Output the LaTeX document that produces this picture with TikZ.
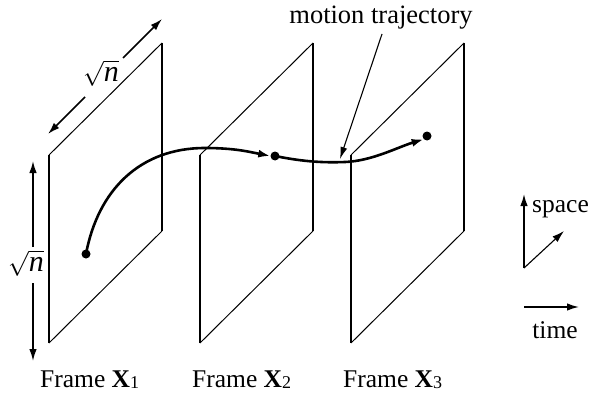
\documentclass[tikz,border=0pt]{standalone}
\usepackage{fontspec}
\setmainfont{Liberation Serif}
\usetikzlibrary{arrows.meta}
\begin{document}
\begin{tikzpicture}[x=1pt,y=-1pt,
  lbl/.style={font=\fontsize{25.5}{30}\selectfont, inner sep=0pt},
  dimlbl/.style={font=\fontsize{30}{34}\selectfont, inner sep=0pt},
  vedge/.style={line width=2.4pt},
  sedge/.style={line width=1pt},
  dimarrow/.style={line width=1.6pt, -{Latex[length=12pt,width=7.5pt]}},
  traj/.style={line width=2.6pt, -{Latex[length=12pt,width=8pt]}},
  pointer/.style={line width=1.1pt, -{Latex[length=12pt,width=7pt]}},
  dot/.style={circle, fill=black, inner sep=0pt, minimum size=9pt}]
\useasboundingbox (0,0) rectangle (593,393);
% frames
\foreach \i/\dx in {1/0,2/151,3/302}{
  \coordinate (bl\i) at (49+\dx,343);
  \coordinate (tl\i) at (49+\dx,155);
  \coordinate (tr\i) at (162+\dx,43);
  \coordinate (br\i) at (162+\dx,231);
  \draw[vedge] (bl\i) -- (tl\i);
  \draw[vedge] (tr\i) -- (br\i);
  \draw[sedge] (tl\i) -- (tr\i);
  \draw[sedge] (br\i) -- (bl\i);
}
% dimension labels
\node[dimlbl] (dimtop) at (101,73) {$\sqrt{\textit{n}}$};
\coordinate (dt1) at (85,97);
\coordinate (dt1e) at (48,134);
\coordinate (dt2) at (123,58);
\coordinate (dt2e) at (162,19);
\draw[dimarrow] (dt1) -- (dt1e);
\draw[dimarrow] (dt2) -- (dt2e);
\node[dimlbl] (dimleft) at (26,263) {$\sqrt{\textit{n}}$};
\coordinate (dl1) at (33,247);
\coordinate (dl1e) at (33,161);
\coordinate (dl2) at (33,283);
\coordinate (dl2e) at (33,361);
\draw[dimarrow] (dl1) -- (dl1e);
\draw[dimarrow] (dl2) -- (dl2e);
% trajectory
\node[dot] (p1) at (86,254) {};
\node[dot] (p2) at (275,156) {};
\node[dot] (p3) at (427,136) {};
\draw[traj] (p1.center) .. controls (98,190) and (140,148) .. (205,148)
  .. controls (235,148) and (250,152) .. (p2.west);
\draw[traj] (p2.center) .. controls (300,161) and (320,163) .. (345,162)
  .. controls (372,161) and (398,147) .. (p3.south west);
% motion trajectory label
\node[lbl, font=\fontsize{26.5}{30}\selectfont, anchor=base] (mt) at (381,24) {motion trajectory};
\coordinate (mtend) at (340,159);
\draw[pointer] (382,34) -- (mtend);
% space/time legend
\coordinate (o) at (524,268);
\coordinate (up) at (524,194);
\coordinate (dg) at (564,231);
\draw[dimarrow] (o) -- (up);
\draw[dimarrow, line width=1.1pt] (o) -- (dg);
\node[lbl, anchor=base west] (sp) at (532,212) {space};
\coordinate (t0) at (524,307);
\coordinate (t1) at (579,307);
\draw[dimarrow] (t0) -- (t1);
\node[lbl, anchor=base] (tm) at (555,338) {time};
% frame labels
\node[lbl, anchor=base west] (f1) at (40,387) {Frame \textbf{X}\raisebox{-0.12ex}{\fontsize{18}{20}\selectfont 1}};
\node[lbl, anchor=base west] (f2) at (192,387) {Frame \textbf{X}\raisebox{-0.12ex}{\fontsize{18}{20}\selectfont 2}};
\node[lbl, anchor=base west] (f3) at (343,387) {Frame \textbf{X}\raisebox{-0.12ex}{\fontsize{18}{20}\selectfont 3}};
\end{tikzpicture}
\end{document}
